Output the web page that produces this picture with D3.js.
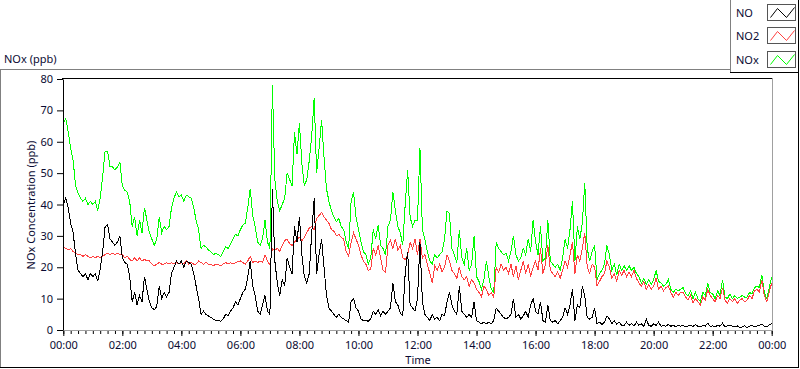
<!DOCTYPE html>
<html>
<head>
<meta charset="utf-8">
<script src="https://cdn.jsdelivr.net/npm/d3@7"></script>
<style>
  body { margin: 0; background: #fff; }
  svg { display: block; font-family: "Noto Sans", "Open Sans", sans-serif; }
</style>
</head>
<body>
<svg width="800" height="369"></svg>
<script>
// sample times in minutes after midnight, one reading every 5 minutes
const minutes = d3.range(0, 24 * 60 + 1, 5);

// NO (ppb), one row per hour
const no = [
  40, 42, 39, 34, 31, 24, 19, 18, 17, 18, 16, 18,
  17, 18, 15.5, 19.5, 25, 33, 33.5, 29, 28, 27, 28, 30,
  23, 21.5, 21, 17, 9, 12, 8, 11, 9, 17, 13, 9,
  7, 6.5, 7.5, 14, 10, 12, 10.5, 12, 18, 20, 22, 21,
  22, 20, 22, 21.5, 21, 18, 14, 10, 5, 6, 5, 4.5,
  4, 3.5, 3, 3.2, 2.8, 3.5, 5, 4.5, 6, 7, 9, 8,
  10, 12, 13, 17, 22, 14, 11, 6, 5, 8, 11, 6,
  5, 45, 22, 15, 11, 16, 14, 23, 20, 18, 33, 28,
  36, 24, 17, 15, 18, 31, 42, 18, 24, 29, 20, 11,
  7, 6, 5, 4, 5, 4, 3.5, 3, 2.5, 9, 10, 7,
  6, 3.5, 3, 3, 2.8, 3.5, 6, 5, 6.5, 4.5, 6, 5,
  6, 7, 15, 9, 8, 5.5, 4.5, 18, 25, 8, 7, 6,
  10, 28, 9, 5, 4, 3, 5, 3.5, 4, 3, 5, 4.5,
  9, 12, 8, 6, 5, 14, 6, 5, 4, 5, 4, 9,
  3, 2.5, 2, 2.5, 2, 2.5, 2, 3, 7, 6, 5, 4,
  3.5, 4, 5, 10, 4, 5, 3.5, 4.5, 6, 4, 8, 10,
  6, 5, 9, 3, 2.5, 8, 3, 2.5, 3, 2, 3, 4,
  7, 5, 8, 13, 3, 8, 7, 14, 11, 4, 3.5, 4,
  7, 2, 2.5, 1.8, 2.5, 4.5, 3.5, 2, 3, 1.8, 2.5, 1.5,
  1.5, 2.5, 1.5, 2, 1.2, 2.5, 1.5, 2, 1.2, 3.5, 1.5, 1.2,
  2, 1.5, 2.5, 1.2, 1.5, 1.2, 1.8, 1.2, 1.5, 1, 1.5, 1.2,
  1.5, 1, 1.3, 1.5, 1.1, 1.8, 1.2, 1, 1.5, 1.2, 2.2, 1.2,
  1.3, 1, 1.5, 1.2, 2.2, 1, 1.3, 1.5, 1.2, 1, 1.3, 0.8,
  1, 1.3, 0.8, 1.2, 1.5, 1, 1.3, 1.5, 1.8, 1.2, 1, 1.6,
  2
];

// NO2 (ppb)
const no2 = [
  26.5, 26, 25.5, 26, 25, 24.5, 24, 24, 23.5, 24, 23.5, 23,
  23.5, 23, 23.5, 23, 23.5, 24, 24.5, 24, 24.5, 24, 24.5, 24,
  24, 23, 23.5, 22.5, 22, 23, 22, 23, 22, 22.5, 22, 22,
  21, 20.5, 21, 21.5, 21, 21, 21.5, 21, 21.5, 21, 21.5, 21,
  21.5, 21, 22, 21, 21.5, 21, 21, 22, 21.5, 21, 21.5, 21,
  21, 20.5, 21, 20.8, 20.5, 21, 21.5, 21, 21.5, 21, 21.5, 21.8,
  22, 21.5, 21, 22, 23.5, 21.5, 22, 21.5, 22, 21.5, 24, 22,
  20.7, 26, 25.5, 26, 25, 27, 28.5, 29, 27.5, 27, 28, 29,
  29.5, 28.5, 29.5, 31, 32.5, 33, 32, 35.5, 36.5, 37.5, 36, 35,
  34, 32, 31.5, 30, 30.5, 29.5, 29, 25, 23.5, 28, 31, 29,
  27, 24, 22, 21, 19, 19.5, 26, 24, 27, 23, 19, 18.5,
  27, 28.5, 26, 29, 25.5, 27, 23, 22.5, 24, 28, 26, 29,
  24, 29, 23, 24, 21, 18, 15, 20.5, 19, 21, 18.5, 20,
  24, 22, 19, 18, 16.5, 20, 17, 16, 17, 14, 16, 15,
  13, 12, 10.5, 14, 13, 11, 12, 10.5, 20, 18.5, 21, 19,
  20, 18, 21, 17, 20.5, 16, 19, 22, 18, 21, 17, 20,
  22, 19, 26, 18, 21, 27, 19, 18, 17, 18.5, 16.5, 19,
  22, 20, 24, 28, 18, 24, 22, 26, 31, 20, 18, 21,
  20, 14, 15.5, 17, 18, 22, 20, 16.5, 18, 15.5, 19, 17.5,
  19, 17, 18.5, 17, 19, 16.5, 15, 14, 15.5, 13, 14.5, 13,
  14, 16.5, 13, 14, 12.5, 13.5, 14, 12, 10.5, 12, 11, 12,
  12, 10.5, 9.5, 11, 8.5, 10, 9, 8, 10.5, 9.5, 13, 11,
  10, 9, 11, 10, 13.5, 9.5, 8.5, 10, 9, 10, 8.5, 9.5,
  10, 9, 9.5, 11, 10, 12.5, 13, 12, 16, 11, 9, 12,
  15
];

// NOx (ppb)
const nox = [
  66, 67.5, 63, 58, 54, 46, 43.5, 42, 41, 42, 40, 41,
  40, 41, 38, 42, 49, 57, 57, 52, 52, 51, 52, 53.5,
  46, 44.5, 44, 41, 33, 36, 30, 35, 31, 39, 35, 31,
  29, 27, 29, 36, 31, 33, 32, 33, 39, 42, 44, 42.5,
  43, 41, 43, 42.5, 42, 39, 35, 32, 26, 27, 26.5, 25.5,
  25, 24, 24.5, 24, 23.5, 25, 26.5, 26, 27.5, 29, 30.5, 30,
  32, 33.5, 34, 39, 45, 36.5, 33, 28, 27, 29, 35, 28,
  26, 78, 48, 41, 38, 40, 42, 50, 48, 46, 63, 56,
  66, 53, 46, 48, 54, 62, 74, 50, 58, 67, 55, 45,
  41, 38, 36, 34.5, 35.5, 33, 32, 28, 26, 41, 44, 36,
  32, 28, 25, 24, 21, 23, 32, 29, 33.5, 27, 26, 24,
  33, 35, 44, 38, 33, 31, 27, 40, 51, 36, 33, 35,
  35, 58, 32, 29, 25, 22, 21, 24, 23, 24, 25, 29,
  38, 37, 26, 24, 21.5, 32, 23, 21, 26, 19, 21, 30,
  17, 15.5, 13, 16, 22, 17, 13, 12, 28, 26, 25, 24,
  24.5, 22, 25, 30, 24, 22, 23, 26, 24, 29, 25, 35,
  28, 24, 33, 22, 23, 35, 22, 21, 20, 21, 19, 23,
  29, 26, 32, 41, 22, 33, 29, 34, 47, 26, 22, 25,
  27, 16, 18, 19, 21, 27, 24, 19, 21, 17.5, 21, 19,
  20.5, 19, 20.5, 19, 20, 18, 17, 15, 16.5, 14.5, 16, 14.5,
  16, 19, 15.5, 15, 14, 14.5, 16, 13, 12, 13, 12.5, 13,
  13.5, 11.5, 11, 12.5, 10, 12, 10, 9, 12, 11, 15, 12,
  11.5, 10, 12.5, 11, 16, 10.5, 10, 11.5, 10, 11, 10, 10.5,
  11, 10.5, 10.5, 12, 11.5, 13.5, 14, 13.5, 17.5, 12, 10, 13.5,
  17
];

const yTicks = [0, 10, 20, 30, 40, 50, 60, 70, 80];
const xTicks = [0, 120, 240, 360, 480, 600, 720, 840, 960, 1080, 1200, 1320, 1440];
const seriesNames = ["NO", "NO2", "NOx"];
const seriesColors = ["#000000", "#ff4040", "#00ff00"];

const svg = d3.select("svg");
const textColor = "#0a0a32";

const x = d3.scaleLinear().domain([0, 1440]).range([63.3, 771.7]);
const y = d3.scaleLinear().domain([0, 80]).range([330, 79]);

// outer panel frame
svg.append("line").attr("x1", 0).attr("x2", 730).attr("y1", 69.5).attr("y2", 69.5).attr("stroke", "#808080");
svg.append("line").attr("x1", 0.5).attr("x2", 0.5).attr("y1", 69).attr("y2", 368).attr("stroke", "#808080");
svg.append("line").attr("x1", 0).attr("x2", 799).attr("y1", 367.5).attr("y2", 367.5).attr("stroke", "#000");
svg.append("line").attr("x1", 798.5).attr("x2", 798.5).attr("y1", 0).attr("y2", 368).attr("stroke", "#000");

svg.append("text")
  .attr("x", 4).attr("y", 63)
  .attr("font-size", 11).attr("fill", textColor)
  .text("NOx (ppb)");

// plot area border: dark top, light right/bottom
svg.append("line").attr("x1", 62).attr("x2", 773).attr("y1", 78.5).attr("y2", 78.5).attr("stroke", "#000");
svg.append("line").attr("x1", 772.5).attr("x2", 772.5).attr("y1", 78).attr("y2", 331).attr("stroke", "#a0a0a0");
svg.append("line").attr("x1", 63).attr("x2", 773).attr("y1", 330.5).attr("y2", 330.5).attr("stroke", "#a0a0a0");

// data lines, green under red under black
const line = d3.line().x((d, i) => x(minutes[i])).y(d => y(d));
const plot = svg.append("g");
[nox, no2, no].forEach((vals, k) => {
  plot.append("path")
    .datum(vals)
    .attr("d", line)
    .attr("fill", "none")
    .attr("stroke", seriesColors[2 - k])
    .attr("stroke-width", 1)
    .attr("shape-rendering", "crispEdges");
});

// y axis
const yAxis = svg.append("g")
  .attr("transform", "translate(63,0)")
  .call(d3.axisLeft(y).tickValues(yTicks).tickSize(6).tickSizeOuter(0).tickPadding(4));
yAxis.select(".domain").attr("stroke", "#000");
yAxis.selectAll("line").attr("stroke", "#000");
yAxis.selectAll("text").attr("font-size", 11).attr("font-family", "Noto Sans").attr("fill", textColor);

svg.append("text")
  .attr("transform", "translate(35,205) rotate(-90)")
  .attr("text-anchor", "middle")
  .attr("font-size", 11).attr("fill", textColor)
  .text("NOx Concentration (ppb)");

// x axis: minor ticks every 15 min, labelled ticks every 2 h
const fmt = m => String(Math.floor(m / 60) % 24).padStart(2, "0") + ":" + String(m % 60).padStart(2, "0");
const xMinor = svg.append("g")
  .attr("transform", "translate(0,331)")
  .call(d3.axisBottom(x).tickValues(d3.range(0, 1441, 15)).tickSize(3).tickSizeOuter(0).tickFormat(""));
xMinor.select(".domain").remove();
xMinor.selectAll("line").attr("stroke", "#000");

const xAxis = svg.append("g")
  .attr("transform", "translate(0,331)")
  .call(d3.axisBottom(x).tickValues(xTicks).tickSize(5).tickSizeOuter(0).tickPadding(5).tickFormat(fmt));
xAxis.select(".domain").remove();
xAxis.selectAll("line").attr("stroke", "#000");
xAxis.selectAll("text").attr("font-size", 11).attr("font-family", "Noto Sans").attr("fill", textColor);

svg.append("text")
  .attr("x", 418).attr("y", 364)
  .attr("text-anchor", "middle")
  .attr("font-size", 11).attr("fill", textColor)
  .text("Time");

// legend
const lg = svg.append("g");
lg.append("rect").attr("x", 730).attr("y", -1).attr("width", 69).attr("height", 73)
  .attr("fill", "#fff").attr("stroke", "none");
lg.append("line").attr("x1", 730.5).attr("x2", 730.5).attr("y1", 0).attr("y2", 73).attr("stroke", "#808080");
lg.append("line").attr("x1", 730).attr("x2", 799).attr("y1", 72.5).attr("y2", 72.5).attr("stroke", "#000");
lg.append("line").attr("x1", 798.5).attr("x2", 798.5).attr("y1", 0).attr("y2", 73).attr("stroke", "#000");

const zig = [[3, 13], [10, 4], [19, 13], [27, 3]];
seriesNames.forEach((name, i) => {
  const top = 4 + i * 23.3;
  lg.append("text")
    .attr("x", 736).attr("y", top + 13)
    .attr("font-size", 11).attr("fill", textColor)
    .text(name);
  const sw = lg.append("g").attr("transform", `translate(767.5,${Math.round(top) + 0.5})`);
  sw.append("rect").attr("width", 28).attr("height", 16).attr("fill", "#fff").attr("stroke", "#555");
  sw.append("path")
    .attr("d", d3.line()(zig))
    .attr("fill", "none")
    .attr("stroke", seriesColors[i]);
});
</script>
</body>
</html>
